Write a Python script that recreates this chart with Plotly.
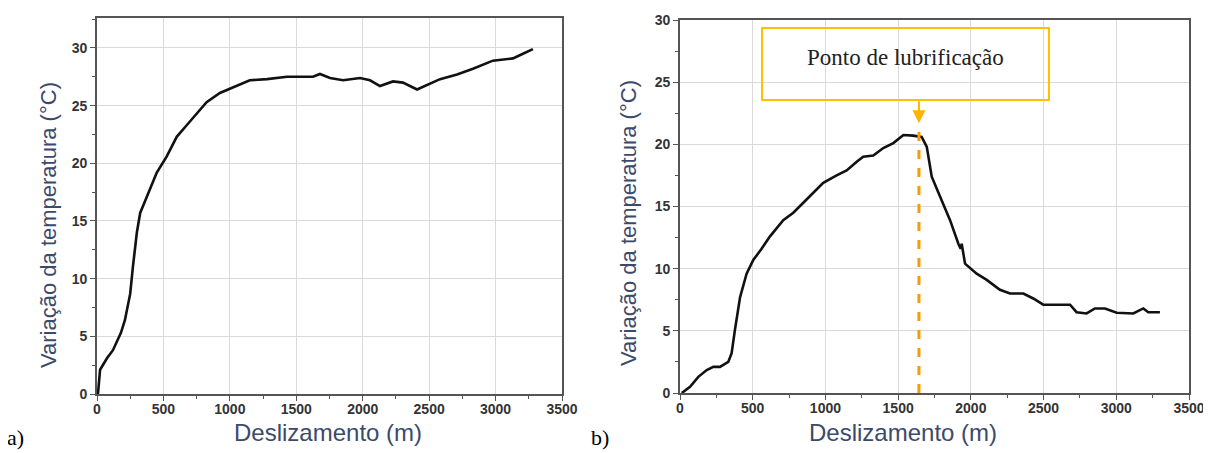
import plotly.graph_objects as go

# ---- data (a) ----
dist_a = [0, 8, 23, 75, 120, 180, 210, 250, 270, 300, 325, 375, 450, 525, 600, 675, 750, 825, 925,
          1025, 1150, 1280, 1377, 1430, 1505, 1626, 1678, 1754, 1852, 1980, 2055, 2130, 2228, 2303,
          2409, 2484, 2582, 2710, 2830, 2980, 3131, 3206, 3281]
temp_a = [0, 0.1, 2.1, 3.1, 3.8, 5.3, 6.4, 8.7, 11.0, 14.0, 15.7, 17.1, 19.2, 20.6, 22.3, 23.3, 24.3, 25.3, 26.1,
          26.6, 27.2, 27.3, 27.4, 27.5, 27.5, 27.5, 27.75, 27.4, 27.2, 27.4, 27.2, 26.7, 27.1, 27.0,
          26.4, 26.8, 27.3, 27.7, 28.2, 28.9, 29.1, 29.5, 29.9]

# ---- data (b) ----
dist_b = [12, 69, 126, 184, 229, 275, 332, 355, 378, 413, 458, 504, 561, 619, 710, 779, 848, 917, 985,
          1077, 1146, 1215, 1260, 1329, 1398, 1467, 1536, 1604, 1662, 1697, 1731, 1788, 1857, 1914, 1930,
          1937, 1960, 2040, 2109, 2200, 2269, 2361, 2429, 2498, 2613, 2682, 2727, 2796, 2853, 2922,
          3003, 3117, 3186, 3220, 3300]
temp_b = [0, 0.5, 1.3, 1.85, 2.1, 2.1, 2.5, 3.2, 5.1, 7.7, 9.6, 10.7, 11.6, 12.6, 13.9, 14.5, 15.3, 16.1, 16.9,
          17.5, 17.9, 18.6, 19.0, 19.1, 19.7, 20.1, 20.75, 20.7, 20.6, 19.8, 17.4, 15.8, 13.9, 12.0, 11.6,
          12.0, 10.4, 9.6, 9.1, 8.3, 8.0, 8.0, 7.6, 7.1, 7.1, 7.1, 6.5, 6.4, 6.8, 6.8,
          6.45, 6.4, 6.8, 6.5, 6.5]

lub_point = 1643
lub_label = "Ponto de lubrificação"

x_ticks = [0, 500, 1000, 1500, 2000, 2500, 3000, 3500]
y_ticks = [0, 5, 10, 15, 20, 25, 30]

W, H = 1211, 453
OFF = 8  # page body margin shifts the figure by 8px


def fx(px):
    return (px - OFF) / W


def fy(py):
    return 1 - (py - OFF) / H


fig = go.Figure()
fig.add_trace(go.Scatter(x=dist_a, y=temp_a, mode="lines", line=dict(color="#111111", width=2.6),
                         xaxis="x", yaxis="y", showlegend=False))
fig.add_trace(go.Scatter(x=dist_b, y=temp_b, mode="lines", line=dict(color="#111111", width=2.6),
                         xaxis="x2", yaxis="y2", showlegend=False))

tickfont = dict(family="Liberation Sans, Arial", size=14, color="#333333", weight="bold")
axcommon = dict(showline=True, linecolor="#555555", linewidth=1.6, mirror=True,
                ticks="outside", ticklen=5, tickwidth=1.4, tickcolor="#555555",
                showgrid=True, gridcolor="#dadada", gridwidth=1.2, zeroline=False,
                tickfont=tickfont)
xt = dict(tickvals=x_ticks, ticktext=[f"<b>{v}</b>" for v in x_ticks], ticklabelstandoff=-4)
yt = dict(tickvals=y_ticks, ticktext=[f"<b>{v}</b>" for v in y_ticks])
xminor = dict(dtick=250, ticks="outside", ticklen=3, tickwidth=1.4, tickcolor="#555555", showgrid=False)
yminor = dict(dtick=2.5, ticks="outside", ticklen=3, tickwidth=1.4, tickcolor="#555555", showgrid=False)

fig.update_layout(
    width=W, height=H, margin=dict(l=0, r=0, t=0, b=0, autoexpand=False),
    paper_bgcolor="white", plot_bgcolor="white",
    xaxis=dict(domain=[fx(97), fx(562)], range=[0, 3500], minor=xminor, anchor="y", **xt, **axcommon),
    yaxis=dict(domain=[fy(394), fy(18)], range=[0, 32.6], minor=yminor, anchor="x", **yt, **axcommon),
    xaxis2=dict(domain=[fx(680), fx(1189)], range=[0, 3500], minor=xminor, anchor="y2", **xt, **axcommon),
    yaxis2=dict(domain=[fy(393), fy(20)], range=[0, 30], minor=yminor, anchor="x2", **yt, **axcommon),
)

title_color = "#3b4a6b"
xtitlefont = dict(family="Liberation Sans, Arial", size=24, color=title_color)
ytitlefont = dict(family="Liberation Sans, Arial", size=22, color=title_color)
serif = "Liberation Serif, Times New Roman"
ann = [
    dict(text="Deslizamento (m)", x=fx(328), y=fy(432), xref="paper", yref="paper",
         showarrow=False, font=xtitlefont, xanchor="center", yanchor="middle"),
    dict(text="Deslizamento (m)", x=fx(903), y=fy(432), xref="paper", yref="paper",
         showarrow=False, font=xtitlefont, xanchor="center", yanchor="middle"),
    dict(text="Variação da temperatura (°C)", x=fx(48), y=fy(225), xref="paper", yref="paper",
         showarrow=False, font=ytitlefont, textangle=-90, xanchor="center", yanchor="middle"),
    dict(text="Variação da temperatura (°C)", x=fx(628), y=fy(223), xref="paper", yref="paper",
         showarrow=False, font=ytitlefont, textangle=-90, xanchor="center", yanchor="middle"),
    dict(text="a)", x=fx(5), y=fy(437), xref="paper", yref="paper", showarrow=False,
         font=dict(family=serif, size=22, color="black"), xanchor="left", yanchor="middle"),
    dict(text="b)", x=fx(589), y=fy(437), xref="paper", yref="paper", showarrow=False,
         font=dict(family=serif, size=22, color="black"), xanchor="left", yanchor="middle"),
    dict(text=lub_label, x=(564 + 2537) / 2, y=27.0, xref="x2", yref="y2", showarrow=False,
         font=dict(family=serif, size=23, color="#222222"), xanchor="center", yanchor="middle"),
    dict(x=lub_point, y=21.7, ax=lub_point, ay=23.57, xref="x2", yref="y2", axref="x2", ayref="y2",
         showarrow=True, arrowhead=2, arrowsize=1.3, arrowwidth=2, arrowcolor="#ffb300", text=""),
]
fig.update_layout(annotations=ann)

fig.add_shape(type="rect", x0=564, x1=2537, y0=23.57, y1=29.36, xref="x2", yref="y2",
              line=dict(color="#ffc000", width=2), fillcolor="rgba(255,255,255,0)")
fig.add_shape(type="line", x0=lub_point, x1=lub_point, y0=0, y1=21.2, xref="x2", yref="y2",
              line=dict(color="#ff9900", width=3, dash="dash"))

fig.write_html("out.html")
